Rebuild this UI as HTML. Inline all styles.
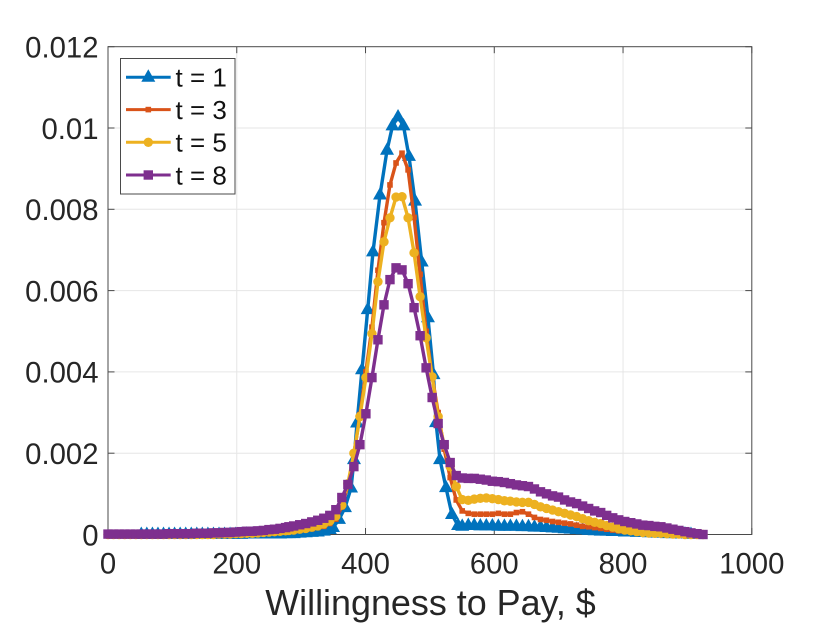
<!DOCTYPE html>
<html lang="en">
<head>
<meta charset="utf-8">
<title>Willingness to Pay distribution</title>
<style>
html,body{margin:0;padding:0;background:#fff;width:830px;height:623px;overflow:hidden}
svg{display:block}
text{font-family:"Liberation Sans",Arial,sans-serif;fill:#262626}
</style>
</head>
<body>
<svg id="chart" width="830" height="623" viewBox="0 0 830 623" xmlns="http://www.w3.org/2000/svg"></svg>
<script>
const xTickValues = [0, 200, 400, 600, 800, 1000];
const xTickLabels = ['0', '200', '400', '600', '800', '1000'];
const yTickValues = [0, 2, 4, 6, 8, 10, 12];
const yTickLabels = ['0', '0.002', '0.004', '0.006', '0.008', '0.01', '0.012'];
const xAxisTitle = 'Willingness to Pay, $';

const willingness = [
  0,8.6,17.2,25.9,34.5,43.1,51.7,60.3,69,77.6,86.2,94.8,103.4,112.1,120.7,129.3,137.9,146.5,155.2,163.8,
  172.4,181,189.6,198.3,206.9,215.5,224.1,232.7,241.4,250,258.6,267.2,275.8,281,
  288.4,297.8,307.1,316.5,325.8,335.2,344.5,353.9,363.2,372.6,381.9,391.3,
  400.6,410,419.3,428.7,438,447.4,456.7,466.1,475.4,484.8,494.1,503.5,512.8,522.2,531.5,540.9,550.2,
  559.6,568.9,578.3,587.6,597,606.3,615.7,625,634.4,643.7,653.1,662.4,671.8,681.1,690.5,699.8,709.2,
  718.5,727.9,737.2,746.6,755.9,765.3,774.6,784,793.3,802.7,812,821.4,830.7,840.1,849.4,858.8,868.1,877.5,886.8,896.2,905.5,914.9,924.2
];
const willingnessT1 = [
  0,8.6,17.2,25.9,34.5,43.1,51.7,60.3,69,77.6,86.2,94.8,103.4,112.1,120.7,129.3,137.9,146.5,155.2,163.8,
  172.4,181,189.6,198.3,206.9,215.5,224.1,232.7,241.4,250,258.6,267.2,275.8,281,
  288.4,297.8,307.1,316.5,325.8,335.2,344.5,
  349.5,358.8,368.1,377.5,382.1,386.8,394.5,403.4,411.6,422.5,433.4,441.9,450.5,459,467.5,476.9,487.3,497,505.6,509.5,515.7,525,534.3,543.7,550.2,
  559.6,568.9,578.3,587.6,597,606.3,615.7,625,634.4,643.7,653.1,662.4,671.8,681.1,690.5,699.8,709.2,
  718.5,727.9,737.2,746.6,755.9,765.3,774.6,784,793.3,802.7,812,821.4,830.7,840.1,849.4,858.8,868.1,877.5,886.8,896.2,905.5,914.9,924.2
];

/* density values, in thousandths */
const densityT1 = [
  null,null,null,null,null,null,0,0,0,0,0,0,0,0,0,0,0,0,0,0,0,0,0,0,0,.01,.01,.01,.01,.01,.01,.01,.02,.02,
  .02,.03,.04,.05,.06,.08,.12,
  .17,.37,.66,1.14,1.84,2.74,4.05,5.53,6.95,8.35,9.45,10.05,10.27,10.05,9.3,8.2,6.7,5.33,3.93,2.75,1.84,1.15,.49,.22,.2,
  .22,.22,.21,.21,.21,.2,.2,.2,.2,.19,.19,.18,.18,.17,.16,.15,.14,.13,.12,.11,.1,.09,.08,.08,.07,.07,.06,.06,.05,.05,.04,.03,.03,.02,.02,.01,.01,0
];
const densityT3 = [
  0,0,0,0,0,0,0,0,0,0,0,0,0,0,0,0,0,0,0,0,0,0,0,.01,.01,.01,.02,.02,.03,.04,.05,.06,.07,.08,
  .08,.1,.12,.14,.17,.2,.27,.38,.68,1.2,1.95,2.95,
  4.0,5.1,6.5,7.67,8.6,9.14,9.38,8.97,7.8,6.4,5.0,3.9,3.0,2.1,1.4,.85,.58,
  .52,.5,.5,.5,.5,.52,.5,.5,.54,.56,.5,.42,.37,.35,.32,.3,.28,.26,.23,.2,.19,.17,.15,.13,.11,.09,.08,.07,.06,.05,.04,.03,.03,.02,.01,.01,0,0,0,0
];
const densityT5 = [
  0,0,0,0,0,0,0,0,0,0,0,0,0,0,0,0,0,0,0,0,.01,.01,.01,.02,.02,.03,.03,.04,.05,.06,.07,.08,.09,.1,
  .11,.13,.15,.18,.21,.26,.33,.45,.72,1.25,2.0,2.9,
  3.86,4.94,6.22,7.2,7.79,8.3,8.31,7.79,6.93,5.85,4.84,3.88,2.9,2.19,1.67,1.18,.86,
  .84,.87,.89,.9,.88,.86,.83,.82,.8,.79,.79,.74,.68,.64,.6,.56,.52,.48,.44,.39,.34,.3,.27,.22,.18,.14,.11,.09,.07,.05,.04,.03,.03,.02,.01,.01,0,0,0,0
];
const densityT8 = [
  .01,.01,.01,.01,.01,.01,.01,.01,.01,.01,.01,.02,.02,.02,.02,.02,.03,.03,.03,.04,.04,.05,.05,.06,.07,.08,.08,.09,.1,.12,.13,.15,.17,.19,
  .21,.24,.27,.31,.35,.4,.47,.61,.91,1.23,1.67,2.21,
  2.97,3.86,4.79,5.65,6.27,6.56,6.51,6.17,5.58,4.89,4.1,3.37,2.73,2.21,1.77,1.45,1.39,
  1.38,1.38,1.36,1.34,1.31,1.3,1.28,1.25,1.22,1.2,1.18,1.12,1.05,1,.95,.92,.85,.8,.76,.7,.64,.58,.54,.47,.41,.36,.32,.29,.26,.23,.22,.2,.19,.16,.13,.1,.07,.04,.02,0
];
const seriesLabels = ['t = 1', 't = 3', 't = 5', 't = 8'];

const NS = 'http://www.w3.org/2000/svg';
const svg = document.getElementById('chart');
const plot = {left: 108, right: 751.8, top: 46.7, bottom: 534.5};
const xDomain = [0, 1000];
const yDomain = [0, 12];
function xScale(v) { return plot.left + (v - xDomain[0]) / (xDomain[1] - xDomain[0]) * (plot.right - plot.left); }
function yScale(v) { return plot.bottom - (v - yDomain[0]) / (yDomain[1] - yDomain[0]) * (plot.bottom - plot.top); }

function make(tag, attrs, parent) {
  const el = document.createElementNS(NS, tag);
  for (const k in attrs) el.setAttribute(k, attrs[k]);
  (parent || svg).appendChild(el);
  return el;
}

/* grid */
const gridGroup = make('g', {});


xTickValues.slice(1, -1).forEach(function (v) {
  const line = make('line', {x1: xScale(v), x2: xScale(v), y1: plot.top, y2: plot.bottom, stroke: '#e6e6e6', 'stroke-width': 1}, gridGroup);
  
  
});
yTickValues.slice(1, -1).forEach(function (v) {
  const line = make('line', {x1: plot.left, x2: plot.right, y1: yScale(v), y2: yScale(v), stroke: '#e6e6e6', 'stroke-width': 1}, gridGroup);
  
  
});

/* axes box and ticks */
const axisGroup = make('g', {});


const frame = make('rect', {x: plot.left, y: plot.top, width: plot.right - plot.left, height: plot.bottom - plot.top, fill: 'none', stroke: '#4a4a4a', 'stroke-width': 1}, axisGroup);


const tickLen = 6.5;
xTickValues.forEach(function (v, i) {
  const x = xScale(v);
  const t1 = make('line', {x1: x, x2: x, y1: plot.bottom, y2: plot.bottom - tickLen, stroke: '#4a4a4a', 'stroke-width': 1}, axisGroup);
  
  
  const t2 = make('line', {x1: x, x2: x, y1: plot.top, y2: plot.top + tickLen, stroke: '#4a4a4a', 'stroke-width': 1}, axisGroup);
  
  
  const label = make('text', {x: x, y: 573.3, 'text-anchor': 'middle', 'font-size': 29.3}, axisGroup);
  label.textContent = xTickLabels[i];
  
  
});
yTickValues.forEach(function (v, i) {
  const y = yScale(v);
  const t1 = make('line', {x1: plot.left, x2: plot.left + tickLen, y1: y, y2: y, stroke: '#4a4a4a', 'stroke-width': 1}, axisGroup);
  
  
  const t2 = make('line', {x1: plot.right, x2: plot.right - tickLen, y1: y, y2: y, stroke: '#4a4a4a', 'stroke-width': 1}, axisGroup);
  
  
  const label = make('text', {x: 98.5, y: y + 10.8, 'text-anchor': 'end', 'font-size': 29.3}, axisGroup);
  label.textContent = yTickLabels[i];
  
  
});
const xTitle = make('text', {x: 430.5, y: 615, 'text-anchor': 'middle', 'font-size': 35.9});
xTitle.textContent = xAxisTitle;



/* marker drawing */
function drawMarker(kind, x, y, color, parent) {
  if (kind === 'triangle') {
    return make('polygon', {points: (x) + ',' + (y - 8) + ' ' + (x + 7) + ',' + (y + 4.4) + ' ' + (x - 7) + ',' + (y + 4.4), fill: color}, parent);
  }
  if (kind === 'star') {
    return make('rect', {x: x - 2.8, y: y - 2.8, width: 5.6, height: 5.6, fill: color}, parent);
  }
  if (kind === 'circle') {
    return make('circle', {cx: x, cy: y, r: 4.7, fill: color}, parent);
  }
  return make('rect', {x: x - 4.7, y: y - 4.7, width: 9.4, height: 9.4, fill: color}, parent);
}

/* series */
function drawSeries(xs, values, color, kind, name) {
  const group = make('g', {});
  
  
  const pts = [];
  values.forEach(function (v, i) {
    if (v !== null) pts.push(xScale(xs[i]).toFixed(2) + ',' + yScale(v).toFixed(2));
  });
  const line = make('polyline', {points: pts.join(' '), fill: 'none', stroke: color, 'stroke-width': 3.4, 'stroke-linejoin': 'round'}, group);
  
  
  values.forEach(function (v, i) {
    if (v === null) return;
    const m = drawMarker(kind, xScale(xs[i]), yScale(v), color, group);
    
    
  });
}
const colors = ['#0072BD', '#D95319', '#EDB120', '#7E2F8E'];
const kinds = ['triangle', 'star', 'circle', 'square'];
drawSeries(willingnessT1, densityT1, colors[0], kinds[0], 'series-t1');
drawSeries(willingness, densityT3, colors[1], kinds[1], 'series-t3');
drawSeries(willingness, densityT5, colors[2], kinds[2], 'series-t5');
drawSeries(willingness, densityT8, colors[3], kinds[3], 'series-t8');

/* legend */
const legend = make('g', {});


const legendBox = make('rect', {x: 120.5, y: 58.5, width: 114.5, height: 135.5, fill: '#fff', stroke: '#4a4a4a', 'stroke-width': 1}, legend);


const legendRowY = [77.3, 109.6, 142.3, 175];
seriesLabels.forEach(function (s, i) {
  const y = legendRowY[i];
  const entry = make('g', {}, legend);
  
  
  make('line', {x1: 126, x2: 170.7, y1: y, y2: y, stroke: colors[i], 'stroke-width': 3}, entry);
  drawMarker(kinds[i], 148.3, y, colors[i], entry);
  const t = make('text', {x: 175.5, y: y + 9.3, 'font-size': 26}, entry);
  t.textContent = s;
  t.style.fill = '#111';
});
</script>
</body>
</html>
